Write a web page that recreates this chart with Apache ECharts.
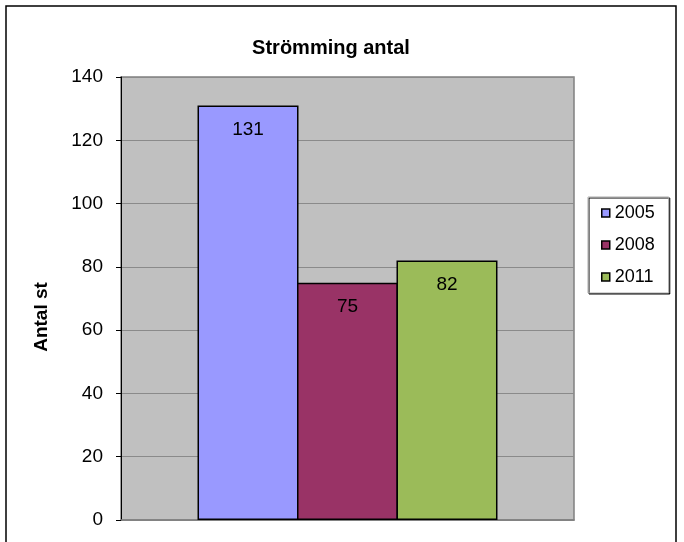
<!DOCTYPE html>
<html>
<head>
<meta charset="utf-8">
<script src="https://cdn.jsdelivr.net/npm/echarts@6/dist/echarts.min.js"></script>
<style>
  html, body { margin: 0; padding: 0; background: #fff; }
  #main { width: 684px; height: 542px; }
</style>
</head>
<body>
<div id="main"></div>
<script>
var years = ['2005', '2008', '2011'];
var counts = [131, 75, 82];
var colors = ['#9999FF', '#993366', '#9BBB59'];
var yTicks = { min: 0, max: 140, interval: 20 };

var myChart = echarts.init(document.getElementById('main'));
var font = 'Liberation Sans, Arial, sans-serif';

var series = [];
for (var i = 0; i < years.length; i++) {
    series.push({
        name: years[i],
        type: 'bar',
        barWidth: 101,
        barGap: '-1.5%', // borders are drawn inside the bar, overlap them so they share one edge
        itemStyle: {
            color: colors[i],
            borderColor: '#000',
            borderWidth: 1.5
        },
        label: {
            show: true,
            position: 'insideTop',
            distance: 15,
            color: '#000',
            fontFamily: font,
            fontSize: 19
        },
        data: [counts[i]]
    });
}

var option = {
    animation: false,
    title: {
        text: 'Strömming antal',
        left: 326,
        textAlign: 'center',
        top: 33,
        textStyle: { fontFamily: font, fontSize: 20, fontWeight: 'bold', color: '#000' }
    },
    graphic: [{
        type: 'rect',
        shape: { x: 6, y: 6, width: 670, height: 560 },
        style: { fill: 'none', stroke: '#000', lineWidth: 1.5 },
        silent: true
    }, {
        // y axis title sits a bit lower than the plot middle
        type: 'text',
        x: 42,
        y: 317,
        rotation: Math.PI / 2,
        style: {
            text: 'Antal st',
            fontFamily: font,
            fontSize: 19,
            fontWeight: 'bold',
            fill: '#000',
            align: 'center',
            verticalAlign: 'middle'
        },
        silent: true
    }],
    legend: {
        orient: 'vertical',
        left: 588,
        top: 197,
        data: years,
        icon: 'rect',
        itemWidth: 8,
        itemHeight: 8,
        itemGap: 14,
        padding: [7, 14, 7, 13],
        backgroundColor: '#fff',
        borderColor: '#aaa',
        borderWidth: 1,
        shadowColor: '#000',
        shadowOffsetX: 1,
        shadowOffsetY: 1,
        shadowBlur: 0,
        itemStyle: { borderColor: '#000', borderWidth: 1.5 },
        textStyle: { fontFamily: font, fontSize: 18, color: '#000' }
    },
    grid: {
        left: 121,
        top: 77,
        width: 453,
        height: 443,
        show: true,
        backgroundColor: '#C0C0C0',
        borderColor: '#808080',
        borderWidth: 1.5
    },
    xAxis: {
        type: 'category',
        data: ['Strömming'],
        axisLine: { show: true, lineStyle: { color: '#808080', width: 1.5 } },
        axisTick: { show: false },
        axisLabel: { show: false }
    },
    yAxis: {
        type: 'value',
        min: yTicks.min,
        max: yTicks.max,
        interval: yTicks.interval,
        axisLine: { show: true, lineStyle: { color: '#000', width: 1 } },
        axisTick: { show: true, inside: false, length: 5, lineStyle: { color: '#000' } },
        axisLabel: { fontFamily: font, fontSize: 19, color: '#000', margin: 18 },
        splitLine: { show: true, lineStyle: { color: '#8a8a8a', width: 1 } }
    },
    series: series
};
myChart.setOption(option);
</script>
</body>
</html>
